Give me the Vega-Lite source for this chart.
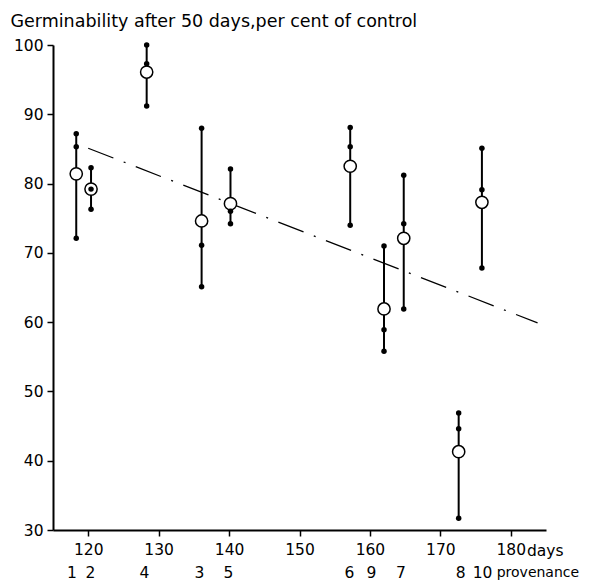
{
  "$schema": "https://vega.github.io/schema/vega-lite/v6.json",
  "width": 493,
  "height": 485,
  "autosize": "none",
  "padding": {"left": 53, "top": 45, "right": 56, "bottom": 55},
  "background": "white",
  "config": {
    "view": {"stroke": null},
    "font": "DejaVu Sans",
    "axis": {
      "grid": false,
      "domainColor": "black",
      "domainWidth": 2,
      "tickColor": "black",
      "tickWidth": 1.5,
      "tickSize": 6,
      "labelColor": "black",
      "labelFont": "DejaVu Sans",
      "labelFontSize": 15.5,
      "titleFont": "DejaVu Sans",
      "titleFontWeight": "normal",
      "titleColor": "black"
    }
  },
  "datasets": {
    "obs": [
      {"prov": "1", "day": 118.3, "value": 87.2, "kind": "dot"},
      {"prov": "1", "day": 118.3, "value": 85.3, "kind": "dot"},
      {"prov": "1", "day": 118.3, "value": 72.1, "kind": "dot"},
      {"prov": "1", "day": 118.3, "value": 81.4, "kind": "mean"},
      {"prov": "2", "day": 120.4, "value": 82.3, "kind": "dot"},
      {"prov": "2", "day": 120.4, "value": 79.2, "kind": "dot"},
      {"prov": "2", "day": 120.4, "value": 76.3, "kind": "dot"},
      {"prov": "2", "day": 120.4, "value": 79.2, "kind": "mean"},
      {"prov": "4", "day": 128.3, "value": 100, "kind": "dot"},
      {"prov": "4", "day": 128.3, "value": 97.3, "kind": "dot"},
      {"prov": "4", "day": 128.3, "value": 91.2, "kind": "dot"},
      {"prov": "4", "day": 128.3, "value": 96.1, "kind": "mean"},
      {"prov": "3", "day": 136.1, "value": 88.0, "kind": "dot"},
      {"prov": "3", "day": 136.1, "value": 71.1, "kind": "dot"},
      {"prov": "3", "day": 136.1, "value": 65.1, "kind": "dot"},
      {"prov": "3", "day": 136.1, "value": 74.6, "kind": "mean"},
      {"prov": "5", "day": 140.2, "value": 82.1, "kind": "dot"},
      {"prov": "5", "day": 140.2, "value": 76.0, "kind": "dot"},
      {"prov": "5", "day": 140.2, "value": 74.2, "kind": "dot"},
      {"prov": "5", "day": 140.2, "value": 77.1, "kind": "mean"},
      {"prov": "6", "day": 157.2, "value": 88.1, "kind": "dot"},
      {"prov": "6", "day": 157.2, "value": 85.3, "kind": "dot"},
      {"prov": "6", "day": 157.2, "value": 74.0, "kind": "dot"},
      {"prov": "6", "day": 157.2, "value": 82.5, "kind": "mean"},
      {"prov": "9", "day": 162.0, "value": 71.0, "kind": "dot"},
      {"prov": "9", "day": 162.0, "value": 58.9, "kind": "dot"},
      {"prov": "9", "day": 162.0, "value": 55.8, "kind": "dot"},
      {"prov": "9", "day": 162.0, "value": 61.9, "kind": "mean"},
      {"prov": "7", "day": 164.8, "value": 81.2, "kind": "dot"},
      {"prov": "7", "day": 164.8, "value": 74.2, "kind": "dot"},
      {"prov": "7", "day": 164.8, "value": 61.9, "kind": "dot"},
      {"prov": "7", "day": 164.8, "value": 72.1, "kind": "mean"},
      {"prov": "8", "day": 172.6, "value": 46.9, "kind": "dot"},
      {"prov": "8", "day": 172.6, "value": 44.6, "kind": "dot"},
      {"prov": "8", "day": 172.6, "value": 31.7, "kind": "dot"},
      {"prov": "8", "day": 172.6, "value": 41.3, "kind": "mean"},
      {"prov": "10", "day": 175.9, "value": 85.1, "kind": "dot"},
      {"prov": "10", "day": 175.9, "value": 79.1, "kind": "dot"},
      {"prov": "10", "day": 175.9, "value": 67.8, "kind": "dot"},
      {"prov": "10", "day": 175.9, "value": 77.3, "kind": "mean"}
    ],
    "trend": [
      {"day": 120, "value": 85.1},
      {"day": 183.8, "value": 59.9}
    ],
    "labels": [
      {"text": "1", "day": 117.7},
      {"text": "2", "day": 120.3},
      {"text": "4", "day": 128.0},
      {"text": "3", "day": 135.8},
      {"text": "5", "day": 139.9},
      {"text": "6", "day": 157.1},
      {"text": "9", "day": 160.2},
      {"text": "7", "day": 164.4},
      {"text": "8", "day": 172.9},
      {"text": "10", "day": 176.0}
    ]
  },
  "layer": [
    {
      "data": {"name": "obs"},
      "transform": [
        {"aggregate": [{"op": "min", "field": "value", "as": "lo"}, {"op": "max", "field": "value", "as": "hi"}], "groupby": ["prov", "day"]}
      ],
      "mark": {"type": "rule", "color": "black", "strokeWidth": 2},
      "encoding": {
        "x": {
          "field": "day", "type": "quantitative",
          "scale": {"domain": [115, 185], "nice": false, "zero": false},
          "axis": {"values": [120, 130, 140, 150, 160, 170, 180], "title": null, "labelPadding": 6}
        },
        "y": {
          "field": "lo", "type": "quantitative",
          "scale": {"domain": [30, 100], "nice": false, "zero": false},
          "axis": {
            "values": [30, 40, 50, 60, 70, 80, 90, 100],
            "labelPadding": 4,
            "title": "Germinability after 50 days,per cent of control",
            "titleAngle": 0,
            "titleAlign": "left",
            "titleBaseline": "alphabetic",
            "titleFontSize": 17.5,
            "titleX": -43,
            "titleY": -19
          }
        },
        "y2": {"field": "hi"}
      }
    },
    {
      "data": {"name": "trend"},
      "mark": {"type": "line", "color": "black", "strokeWidth": 1.3, "strokeDash": [27, 11, 2, 11]},
      "encoding": {
        "x": {"field": "day", "type": "quantitative"},
        "y": {"field": "value", "type": "quantitative"}
      }
    },
    {
      "data": {"name": "obs"},
      "transform": [{"filter": "datum.kind == 'mean'"}],
      "mark": {"type": "point", "shape": "circle", "filled": true, "fill": "white", "stroke": "black", "strokeWidth": 1.5, "size": 150, "opacity": 1},
      "encoding": {
        "x": {"field": "day", "type": "quantitative"},
        "y": {"field": "value", "type": "quantitative"}
      }
    },
    {
      "data": {"name": "obs"},
      "transform": [{"filter": "datum.kind == 'dot'"}],
      "mark": {"type": "point", "shape": "circle", "filled": true, "color": "black", "size": 30, "opacity": 1},
      "encoding": {
        "x": {"field": "day", "type": "quantitative"},
        "y": {"field": "value", "type": "quantitative"}
      }
    },
    {
      "data": {"name": "labels"},
      "mark": {"type": "text", "fontSize": 15.5, "font": "DejaVu Sans", "color": "black", "baseline": "middle", "dy": 43},
      "encoding": {
        "x": {"field": "day", "type": "quantitative"},
        "y": {"datum": 30},
        "text": {"field": "text"}
      }
    },
    {
      "data": {"values": [{"text": "days", "day": 182.3}]},
      "mark": {"type": "text", "fontSize": 15.5, "font": "DejaVu Sans", "color": "black", "baseline": "middle", "align": "left", "dy": 21},
      "encoding": {
        "x": {"field": "day", "type": "quantitative"},
        "y": {"datum": 30},
        "text": {"field": "text"}
      }
    },
    {
      "data": {"values": [{"text": "provenance", "day": 178.0}]},
      "mark": {"type": "text", "fontSize": 14, "font": "DejaVu Sans", "color": "black", "baseline": "middle", "align": "left", "dy": 43},
      "encoding": {
        "x": {"field": "day", "type": "quantitative"},
        "y": {"datum": 30},
        "text": {"field": "text"}
      }
    }
  ]
}
